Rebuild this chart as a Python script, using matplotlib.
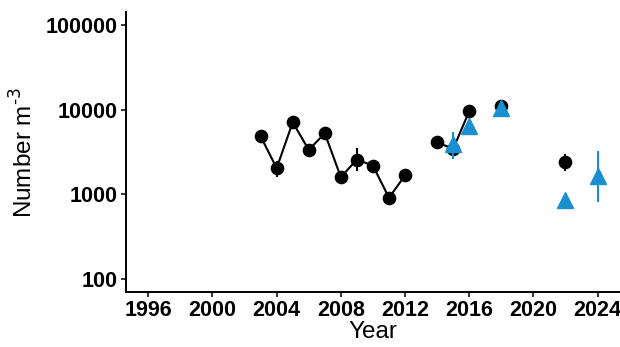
import numpy as np
import matplotlib
matplotlib.use("Agg")
import matplotlib.pyplot as plt
from matplotlib.ticker import FixedLocator, FuncFormatter, NullLocator

# black circles (nan breaks the line where a year is missing)
black_years = [2003, 2004, 2005, 2006, 2007, 2008, 2009, 2010, 2011, 2012, 2013,
               2014, 2015, 2016, 2017, 2018]
black_vals = [4850, 2040, 7100, 3360, 5260, 1600, 2580, 2190, 915, 1675, np.nan,
              4120, 3450, 9550, np.nan, 10900]
black_lo = [4850, 1600, 7100, 3360, 5260, 1450, 1880, 2190, 760, 1675, np.nan,
            4120, 3000, 9550, np.nan, 10900]
black_hi = [4850, 2500, 7100, 3360, 5260, 1700, 3550, 2190, 1000, 1675, np.nan,
            4120, 3900, 9550, np.nan, 10900]

# 2022 black point stands alone
single_year = [2022]
single_val = [2400]
single_lo = [1910]
single_hi = [3020]

# blue triangles
blue_years = [2015, 2016, 2018, 2022, 2024]
blue_vals = [3960, 6500, 10400, 870, 1640]
blue_lo = [2630, 5600, 10400, 870, 813]
blue_hi = [5400, 6500, 10400, 870, 3300]

x_ticks = [1996, 2000, 2004, 2008, 2012, 2016, 2020, 2024]
y_ticks = [100, 1000, 10000, 100000]

blue = "#1a8fcf"

plt.rcParams["font.family"] = ["Liberation Sans", "DejaVu Sans"]

fig = plt.figure(figsize=(6.2, 3.47), dpi=100)
ax = fig.add_axes([0.203, 0.1585, 0.797, 0.8065])

bv = np.array(black_vals, dtype=float)
ax.vlines(black_years, black_lo, black_hi, color="black", lw=1.5, zorder=2)
ax.plot(black_years, bv, color="black", lw=1.5, zorder=2)
ax.plot(black_years, bv, "o", color="black", ms=8.8, zorder=3)
ax.vlines(single_year, single_lo, single_hi, color="black", lw=1.5, zorder=2)
ax.plot(single_year, single_val, "o", color="black", ms=8.8, zorder=3)

ax.vlines(blue_years, blue_lo, blue_hi, color=blue, lw=1.5, zorder=4)
ax.plot(blue_years, blue_vals, "^", color=blue, ms=11.5, ls="none", zorder=5)

ax.set_yscale("log")
lg_lo, lg_hi = 2, 5
pad = 0.05 * (lg_hi - lg_lo)
ax.set_ylim(10 ** (lg_lo - pad), 10 ** (lg_hi + pad))
ax.set_xlim(1996 - 0.05 * 28, 2024 + 0.05 * 28)

ax.yaxis.set_major_locator(FixedLocator(y_ticks))
ax.yaxis.set_minor_locator(NullLocator())
ax.yaxis.set_major_formatter(FuncFormatter(lambda v, p: f"{int(round(v))}"))
ax.set_xticks(x_ticks)

for s in ["top", "right"]:
    ax.spines[s].set_visible(False)
for s in ["left", "bottom"]:
    ax.spines[s].set_linewidth(1.4)

ax.tick_params(axis="both", length=3.5, width=1.1, pad=2.5, labelsize=15.5)
for lab in ax.get_xticklabels() + ax.get_yticklabels():
    lab.set_fontweight("bold")

ax.set_xlabel("Year", fontsize=17.5, labelpad=0)
ax.set_ylabel(r"Number m$^{\text{-3}}$", fontsize=17.5, labelpad=6)

fig.savefig("out.png", dpi=100)
